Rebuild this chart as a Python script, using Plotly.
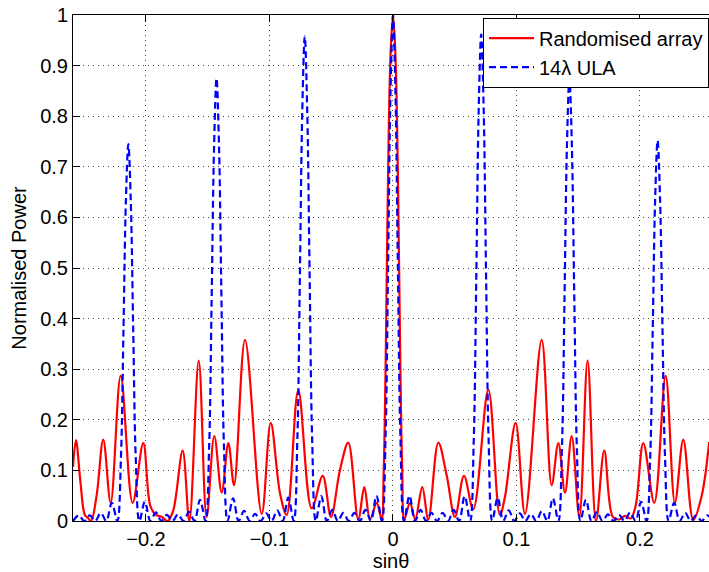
import plotly.graph_objects as go

# Randomised array
rand_x = [-0.2591, -0.2567, -0.2530, -0.2495, -0.2470, -0.2445, -0.2400, -0.2346, -0.2286, -0.2205,
          -0.2108, -0.2022, -0.1965, -0.1920, -0.1870, -0.1825, -0.1780, -0.1703, -0.1649, -0.1573,
          -0.1509, -0.1447, -0.1387, -0.1333, -0.1287, -0.1198, -0.1063, -0.0990, -0.0915, -0.0861,
          -0.0767, -0.0658, -0.0569, -0.0502, -0.0430, -0.0362, -0.0281, -0.0232, -0.0186, -0.0132,
          -0.0092, -0.0075, -0.0060, -0.0040, -0.0020, 0.0000, 0.0020, 0.0040, 0.0060, 0.0075,
          0.0092, 0.0138, 0.0180, 0.0237, 0.0286, 0.0367, 0.0435, 0.0502, 0.0575, 0.0650,
          0.0772, 0.0866, 0.0907, 0.0993, 0.1069, 0.1204, 0.1285, 0.1339, 0.1393, 0.1447,
          0.1509, 0.1576, 0.1644, 0.1711, 0.1780, 0.1830, 0.1880, 0.1925, 0.1965, 0.2027,
          0.2116, 0.2208, 0.2283, 0.2351, 0.2432, 0.2500, 0.2560]
rand_y = [0.107, 0.160, 0.075, 0.012, 0.006, 0.000, 0.050, 0.161, 0.036, 0.287,
          0.036, 0.154, 0.030, 0.012, 0.008, 0.000, 0.020, 0.139, 0.000, 0.317,
          0.008, 0.168, 0.056, 0.154, 0.071, 0.358, 0.014, 0.194, 0.055, 0.012,
          0.258, 0.025, 0.089, 0.008, 0.100, 0.155, 0.003, 0.067, 0.003, 0.036,
          0.003, 0.100, 0.300, 0.680, 0.920, 1.000, 0.920, 0.680, 0.300, 0.100,
          0.003, 0.036, 0.003, 0.067, 0.003, 0.155, 0.090, 0.008, 0.089, 0.023,
          0.259, 0.012, 0.048, 0.194, 0.014, 0.358, 0.071, 0.154, 0.056, 0.168,
          0.008, 0.317, 0.000, 0.139, 0.008, 0.003, 0.010, 0.005, 0.030, 0.154,
          0.036, 0.287, 0.036, 0.161, 0.002, 0.050, 0.156]

# 14-lambda ULA
ula_x = [-0.25893, -0.25446, -0.25000, -0.24554, -0.24107, -0.23661, -0.23214, -0.22768, -0.22321,
         -0.22029, -0.21829, -0.21629, -0.21429, -0.21229, -0.21029, -0.20829,
         -0.20536, -0.20089, -0.19643, -0.19196, -0.18750, -0.18304, -0.17857, -0.17411, -0.16964,
         -0.16518, -0.16071, -0.15625, -0.15179,
         -0.14886, -0.14686, -0.14486, -0.14286, -0.14086, -0.13886, -0.13686,
         -0.13393, -0.12946, -0.12500, -0.12054, -0.11607, -0.11161, -0.10714, -0.10268, -0.09821,
         -0.09375, -0.08929, -0.08482, -0.08036,
         -0.07743, -0.07543, -0.07343, -0.07143, -0.06943, -0.06743, -0.06543,
         -0.06250, -0.05804, -0.05357, -0.04911, -0.04464, -0.04018, -0.03571, -0.03125, -0.02679,
         -0.02232, -0.01786, -0.01339, -0.00893,
         -0.00600, -0.00400, -0.00200, 0.00000, 0.00200, 0.00400, 0.00600,
         0.00893, 0.01339, 0.01786, 0.02232, 0.02679, 0.03125, 0.03571, 0.04018, 0.04464,
         0.04911, 0.05357, 0.05804, 0.06250,
         0.06543, 0.06743, 0.06943, 0.07143, 0.07343, 0.07543, 0.07743,
         0.08036, 0.08482, 0.08929, 0.09375, 0.09821, 0.10268, 0.10714, 0.11161, 0.11607,
         0.12054, 0.12500, 0.12946, 0.13393,
         0.13686, 0.13886, 0.14086, 0.14286, 0.14486, 0.14686, 0.14886,
         0.15179, 0.15625, 0.16071, 0.16518, 0.16964, 0.17411, 0.17857, 0.18304, 0.18750,
         0.19196, 0.19643, 0.20089, 0.20536,
         0.20829, 0.21029, 0.21229, 0.21429, 0.21629, 0.21829, 0.22029,
         0.22321, 0.22768, 0.23214, 0.23661, 0.24107, 0.24554, 0.25000, 0.25446, 0.25893]
ula_y = [0.000, 0.011, 0.000, 0.011, 0.000, 0.016, 0.000, 0.036, 0.000,
         0.125, 0.370, 0.631, 0.745, 0.631, 0.370, 0.125,
         0.000, 0.038, 0.000, 0.017, 0.000, 0.012, 0.000, 0.013, 0.000,
         0.018, 0.000, 0.042, 0.000,
         0.147, 0.434, 0.741, 0.875, 0.741, 0.434, 0.147,
         0.000, 0.045, 0.000, 0.020, 0.000, 0.014, 0.000, 0.015, 0.000,
         0.021, 0.000, 0.046, 0.000,
         0.161, 0.475, 0.811, 0.958, 0.811, 0.475, 0.161,
         0.000, 0.049, 0.000, 0.022, 0.000, 0.016, 0.000, 0.016, 0.000,
         0.022, 0.000, 0.050, 0.000,
         0.168, 0.496, 0.847, 1.000, 0.847, 0.496, 0.168,
         0.000, 0.050, 0.000, 0.022, 0.000, 0.016, 0.000, 0.016, 0.000,
         0.022, 0.000, 0.049, 0.000,
         0.162, 0.477, 0.815, 0.962, 0.815, 0.477, 0.162,
         0.000, 0.046, 0.000, 0.021, 0.000, 0.015, 0.000, 0.014, 0.000,
         0.020, 0.000, 0.045, 0.000,
         0.147, 0.434, 0.741, 0.875, 0.741, 0.434, 0.147,
         0.000, 0.042, 0.000, 0.018, 0.000, 0.013, 0.000, 0.012, 0.000,
         0.017, 0.000, 0.038, 0.000,
         0.126, 0.372, 0.635, 0.752, 0.635, 0.372, 0.126,
         0.000, 0.036, 0.000, 0.016, 0.000, 0.011, 0.000, 0.011, 0.000]

x_ticks = [-0.2, -0.1, 0, 0.1, 0.2]
x_tick_labels = ["\u22120.2", "\u22120.1", "0", "0.1", "0.2"]
y_ticks = [0, 0.1, 0.2, 0.3, 0.4, 0.5, 0.6, 0.7, 0.8, 0.9, 1]
y_tick_labels = ["0", "0.1", "0.2", "0.3", "0.4", "0.5", "0.6", "0.7", "0.8", "0.9", "1"]

FONT = "Liberation Sans, Arial, Helvetica, sans-serif"

fig = go.Figure()
fig.add_trace(go.Scatter(x=rand_x, y=rand_y, mode="lines", name="Randomised array",
                         line=dict(color="rgb(255,0,0)", width=2.2, shape="spline", smoothing=1.0)))
fig.add_trace(go.Scatter(x=ula_x, y=ula_y, mode="lines", name="14\u03bb ULA",
                         line=dict(color="rgb(0,0,255)", width=2.2, dash="7px,4px", shape="spline", smoothing=1.0)))

fig.update_layout(
    width=709, height=572,
    margin=dict(l=73, r=0, t=15, b=51),
    paper_bgcolor="white", plot_bgcolor="white",
    font=dict(family=FONT, size=20, color="black"),
    showlegend=True,
    legend=dict(x=0.6447, y=0.995, xanchor="left", yanchor="top",
                bgcolor="white", bordercolor="black", borderwidth=1,
                font=dict(size=20), tracegroupgap=0, itemwidth=45),
    xaxis=dict(range=[-0.2591, 0.2559], tickvals=x_ticks, ticktext=x_tick_labels,
               ticks="inside", ticklen=7, tickcolor="black", showline=True, linecolor="black",
               linewidth=1, mirror="allticks", showgrid=True, gridcolor="#444", griddash="1px,4px",
               gridwidth=1, zeroline=False,
               title=dict(text="sin\u03b8", standoff=0, font=dict(size=20))),
    yaxis=dict(range=[0, 1], tickvals=y_ticks, ticktext=y_tick_labels,
               ticks="inside", ticklen=7, tickcolor="black", showline=True, linecolor="black",
               linewidth=1, mirror=False, showgrid=True, gridcolor="#444", griddash="1px,4px",
               gridwidth=1, zeroline=False,
               title=dict(text="Normalised Power", standoff=8, font=dict(size=20))),
)

fig.write_html("out.html")
